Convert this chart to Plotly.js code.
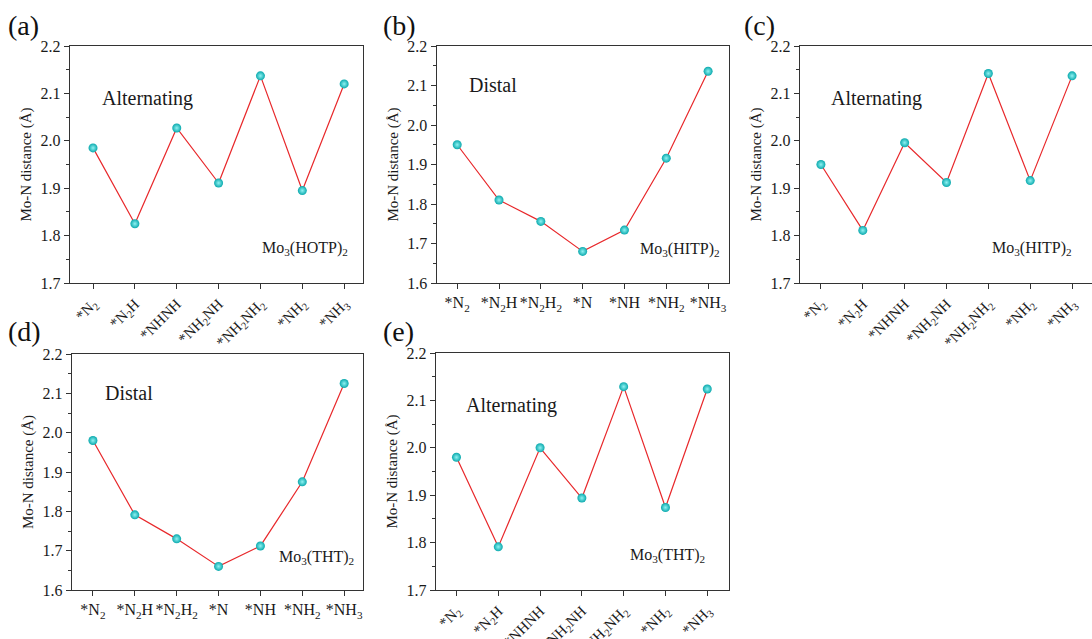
<!DOCTYPE html>
<html><head><meta charset="utf-8">
<script src="https://cdn.plot.ly/plotly-3.0.1.min.js"></script>
<style>html,body{margin:0;padding:0;overflow:hidden;background:#fff}#chart{width:1100px;height:639px}</style>
</head><body><div id="chart"></div>
<script>
const catsAlt = ['*N<sub>2</sub>','*N<sub>2</sub>H','*NHNH','*NH<sub>2</sub>NH','*NH<sub>2</sub>NH<sub>2</sub>','*NH<sub>2</sub>','*NH<sub>3</sub>'];
const catsDist = ['*N<sub>2</sub>','*N<sub>2</sub>H','*N<sub>2</sub>H<sub>2</sub>','*N','*NH','*NH<sub>2</sub>','*NH<sub>3</sub>'];
const valsA = [1.985,1.825,2.027,1.911,2.137,1.895,2.120];
const valsB = [1.950,1.810,1.756,1.680,1.734,1.916,2.136];
const valsC = [1.950,1.811,1.996,1.912,2.142,1.916,2.137];
const valsD = [1.980,1.791,1.730,1.660,1.712,1.875,2.125];
const valsE = [1.980,1.791,2.000,1.894,2.129,1.874,2.124];
const panelLabels = ['(a)','(b)','(c)','(d)','(e)'];
const mechLabels = ['Alternating','Distal','Alternating','Distal','Alternating'];
const matLabels = ['Mo<sub>3</sub>(HOTP)<sub>2</sub>','Mo<sub>3</sub>(HITP)<sub>2</sub>','Mo<sub>3</sub>(HITP)<sub>2</sub>','Mo<sub>3</sub>(THT)<sub>2</sub>','Mo<sub>3</sub>(THT)<sub>2</sub>'];
const yTitle = 'Mo-N distance (Å)';

const W = 1100, H = 639;
const FONT = '"Liberation Serif", "Times New Roman", serif';
const panels = [
  {cats: catsAlt, vals: valsA, xpx:[70,363], ypx:[46,283], xr:[-0.55,6.45], yr:[1.7,2.2], ang:-45},
  {cats: catsDist, vals: valsB, xpx:[436.7,729], ypx:[46,283], xr:[-0.49,6.5], yr:[1.6,2.2], ang:0},
  {cats: catsAlt, vals: valsC, xpx:[800,1093], ypx:[46,283], xr:[-0.5,6.5], yr:[1.7,2.2], ang:-45},
  {cats: catsDist, vals: valsD, xpx:[72,363], ypx:[354,590], xr:[-0.5,6.45], yr:[1.6,2.2], ang:0},
  {cats: catsAlt, vals: valsE, xpx:[436,729], ypx:[353,590], xr:[-0.49,6.52], yr:[1.7,2.2], ang:-45}
];
const panelPos = [[6,25],[381,25],[742,25],[6,332],[381,332]];
const mechPos = [[100,98],[467,85],[829,98],[103,393],[464,405]];
const matPos = [[260,248],[638,249],[990,248],[277,557],[628,555]];

const traces = [];
const layout = {
  width: W, height: H, margin:{l:0,r:0,t:0,b:0},
  paper_bgcolor:'#fff', plot_bgcolor:'#fff', showlegend:false,
  font:{family:FONT, color:'#1a1a1a'}, annotations:[]
};
panels.forEach((p,i)=>{
  const n = i===0 ? '' : String(i+1);
  traces.push({
    x: p.cats, y: p.vals, xaxis:'x'+n, yaxis:'y'+n, type:'scatter', mode:'lines+markers',
    line:{color:'#e8282b', width:1.2},
    marker:{size:9, color:'#0aa9ad', gradient:{type:'radial', color:'#8ff2f2'}, line:{width:0}},
    cliponaxis:false
  });
  layout['xaxis'+n] = {
    domain:[p.xpx[0]/W, p.xpx[1]/W], anchor:'y'+n, type:'category', range:p.xr,
    showgrid:false, zeroline:false, showline:true, linecolor:'#333', linewidth:1.2, mirror:true,
    ticks:'outside', ticklen:5, tickcolor:'#333', tickangle:p.ang,
    tickfont:{family:FONT, size:(p.ang ? 15 : 16), color:'#1a1a1a'}
  };
  layout['yaxis'+n] = {
    domain:[1-p.ypx[1]/H, 1-p.ypx[0]/H], anchor:'x'+n, range:p.yr, dtick:0.1, tickformat:'.1f',
    showgrid:false, zeroline:false, showline:true, linecolor:'#333', linewidth:1.2, mirror:true,
    ticks:'outside', ticklen:5, tickcolor:'#333',
    minor:{dtick:0.05, ticks:'outside', ticklen:3, tickcolor:'#333', showgrid:false},
    tickfont:{family:FONT, size:16, color:'#1a1a1a'},
    title:{text:yTitle, font:{family:FONT, size:15, color:'#1a1a1a'}, standoff:5}
  };
  layout.annotations.push({xref:'paper', yref:'paper', x:panelPos[i][0]/W, y:1-panelPos[i][1]/H,
    xanchor:'left', yanchor:'middle', showarrow:false, text:panelLabels[i], font:{family:FONT, size:28, color:'#111'}});
  layout.annotations.push({xref:'paper', yref:'paper', x:mechPos[i][0]/W, y:1-mechPos[i][1]/H,
    xanchor:'left', yanchor:'middle', showarrow:false, text:mechLabels[i], font:{family:FONT, size:20, color:'#1a1a1a'}});
  layout.annotations.push({xref:'paper', yref:'paper', x:matPos[i][0]/W, y:1-matPos[i][1]/H,
    xanchor:'left', yanchor:'middle', showarrow:false, text:matLabels[i], font:{family:FONT, size:16, color:'#1a1a1a'}});
});
Plotly.newPlot('chart', traces, layout, {displayModeBar:false, staticPlot:true});
</script></body></html>
